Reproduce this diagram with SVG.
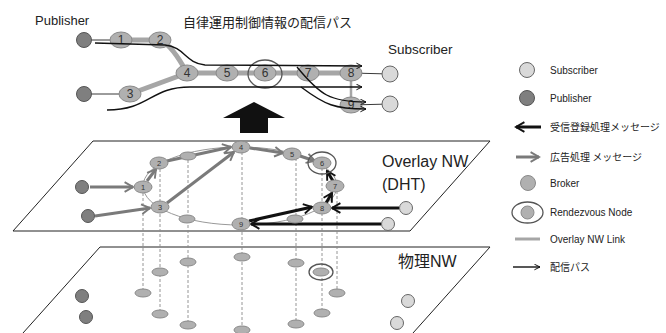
<svg xmlns="http://www.w3.org/2000/svg" width="666" height="333" viewBox="0 0 666 333">
<defs>
<style>
.t{font-family:"Liberation Sans","Noto Sans CJK JP",sans-serif;fill:#222}
.jp{font-family:"Noto Sans CJK JP",sans-serif;fill:#222}
.pub{fill:#7f7f7f;stroke:#555;stroke-width:1}
.sub{fill:#d9d9d9;stroke:#666;stroke-width:1}
.brk{fill:#b0b0b0;stroke:#8a8a8a;stroke-width:1}
.ring{fill:none;stroke:#555;stroke-width:1.3}
.link{fill:none;stroke:#a6a6a6;stroke-width:5}
.thin{fill:none;stroke:#999;stroke-width:1}
.path{fill:none;stroke:#111;stroke-width:1.4}
.garr{fill:none;stroke:#7a7a7a;stroke-width:3}
.barr{fill:none;stroke:#111;stroke-width:3}
.dash{stroke:#8a8a8a;stroke-width:0.9;stroke-dasharray:3 2}
.plane{fill:none;stroke:#222;stroke-width:1}
.nl{font-family:"Liberation Sans",sans-serif;fill:#333;text-anchor:middle}
</style>
<marker id="ah" viewBox="0 0 10 10" refX="9" refY="5" markerWidth="7" markerHeight="7" orient="auto" markerUnits="userSpaceOnUse"><path d="M1,1 L9,5 L1,9" fill="none" stroke="#111" stroke-width="1.4"/></marker>
<marker id="ga" viewBox="0 0 10 10" refX="8" refY="5" markerWidth="4" markerHeight="4" orient="auto"><path d="M1,1 L8,5 L1,9" fill="none" stroke="#7a7a7a" stroke-width="1.6"/></marker>
<marker id="ba" viewBox="0 0 10 10" refX="8" refY="5" markerWidth="4" markerHeight="4" orient="auto"><path d="M1,1 L8,5 L1,9" fill="none" stroke="#111" stroke-width="1.6"/></marker>
</defs>

<!-- titles -->
<text class="t" x="35" y="25" font-size="13">Publisher</text>
<text class="jp" x="183" y="27" font-size="13">自律運用制御情報の配信パス</text>
<text class="t" x="388" y="54" font-size="13.5">Subscriber</text>

<!-- top diagram links -->
<g id="top-links">
<path class="link" d="M121,40 L160,40"/>
<path class="link" d="M160,40 Q172,45 187,73"/>
<path class="link" d="M187,73 L351,73"/>
<path class="link" d="M130,94 L187,73"/>
<path d="M351,73 L351,105" stroke="#a6a6a6" stroke-width="2.5"/>
<path d="M84,40 L121,40 M84,94 L130,94 M351,73 L390,74 M351,105 L390,104" stroke="#222" stroke-width="0.9"/>
</g>
<g id="top-nodes">
<g id="tpub1"><circle class="pub" cx="84" cy="40" r="7.5"/></g>
<g id="tpub2"><circle class="pub" cx="84" cy="94" r="7.5"/></g>
<g id="t1"><ellipse class="brk" cx="121" cy="40" rx="11" ry="8"/><text class="nl" x="121" y="44" font-size="12">1</text></g>
<g id="t2"><ellipse class="brk" cx="160" cy="40" rx="11" ry="8"/><text class="nl" x="160" y="44" font-size="12">2</text></g>
<g id="t3"><ellipse class="brk" cx="130" cy="94" rx="11" ry="8"/><text class="nl" x="130" y="98" font-size="12">3</text></g>
<g id="t4"><ellipse class="brk" cx="187" cy="73" rx="11" ry="8"/><text class="nl" x="187" y="77" font-size="12">4</text></g>
<g id="t5"><ellipse class="brk" cx="227" cy="73" rx="11" ry="8"/><text class="nl" x="227" y="77" font-size="12">5</text></g>
<g id="t6"><ellipse class="ring" cx="265" cy="74" rx="17" ry="14"/><ellipse class="brk" cx="265" cy="73" rx="11" ry="8"/><text class="nl" x="265" y="77" font-size="12">6</text></g>
<g id="t7"><ellipse class="brk" cx="308" cy="73" rx="11" ry="8"/><text class="nl" x="308" y="77" font-size="12">7</text></g>
<g id="t8"><ellipse class="brk" cx="351" cy="73" rx="11" ry="8"/><text class="nl" x="351" y="77" font-size="12">8</text></g>
<g id="t9"><ellipse class="brk" cx="351" cy="105" rx="11" ry="8"/><text class="nl" x="351" y="109" font-size="12">9</text></g>
<g id="tsub1"><circle class="sub" cx="390" cy="74" r="8"/></g>
<g id="tsub2"><circle class="sub" cx="390" cy="104" r="8"/></g>
</g>
<g id="top-paths">
<path class="path" marker-end="url(#ah)" d="M95,43 L165,45 C185,47 185,63 205,65 L362,66"/>
<path class="path" marker-end="url(#ah)" d="M107,110 C150,110 150,87 190,87 L362,87"/>
<path class="path" marker-end="url(#ah)" d="M297,67 C320,95 330,102 366,102"/>
<path class="path" marker-end="url(#ah)" d="M301,87 C325,105 335,109 366,109"/>
</g>

<!-- big arrow -->
<polygon points="223,118 254,102 285,118 268,118 268,133 240,133 240,118" fill="#111"/>

<!-- planes -->
<polygon class="plane" points="93,141 490,141 410,231 13,231"/>
<path class="plane" d="M23,333 L100,247 L490,247 L413,333"/>
<text class="t" x="382" y="167" font-size="16">Overlay NW</text>
<text class="t" x="382" y="190" font-size="16">(DHT)</text>
<text class="t" x="398" y="267" font-size="16">物理NW</text>

<!-- dashed projections -->
<g id="projections">
<line class="dash" x1="143" y1="193" x2="143" y2="293"/>
<line class="dash" x1="160" y1="169" x2="160" y2="314"/>
<line class="dash" x1="188" y1="160" x2="188" y2="325"/>
<line class="dash" x1="242" y1="152" x2="242" y2="330"/>
<line class="dash" x1="296" y1="158" x2="296" y2="324"/>
<line class="dash" x1="322" y1="168" x2="322" y2="313"/>
<line class="dash" x1="337" y1="191" x2="337" y2="293"/>
</g>

<!-- physical nodes -->
<g id="physical">
<ellipse class="brk" cx="143" cy="293" rx="8" ry="4"/>
<ellipse class="brk" cx="160" cy="272" rx="8" ry="4"/>
<ellipse class="brk" cx="160" cy="314" rx="8" ry="4"/>
<ellipse class="brk" cx="188" cy="262" rx="8" ry="4"/>
<ellipse class="brk" cx="188" cy="325" rx="8" ry="4"/>
<ellipse class="brk" cx="242" cy="257" rx="8" ry="4"/>
<ellipse class="brk" cx="242" cy="330" rx="8" ry="4"/>
<ellipse class="brk" cx="296" cy="263" rx="8" ry="4"/>
<ellipse class="brk" cx="296" cy="324" rx="8" ry="4"/>
<ellipse class="ring" cx="321" cy="272" rx="12" ry="8"/>
<ellipse class="brk" cx="321" cy="272" rx="8" ry="4"/>
<ellipse class="brk" cx="322" cy="313" rx="8" ry="4"/>
<ellipse class="brk" cx="337" cy="293" rx="8" ry="4"/>
<circle class="pub" cx="82" cy="296" r="6.5"/>
<circle class="pub" cx="86" cy="317" r="6.5"/>
<circle class="sub" cx="408" cy="301" r="6.5"/>
<circle class="sub" cx="397" cy="323" r="6.5"/>
</g>

<!-- overlay ring -->
<ellipse class="thin" cx="240" cy="186" rx="97" ry="39"/>

<!-- overlay connectors -->
<g id="overlay-connectors">
<line class="garr" marker-end="url(#ga)" x1="90" y1="187" x2="133" y2="187"/>
<line class="garr" marker-end="url(#ga)" x1="95" y1="216" x2="150" y2="208"/>
<line class="garr" marker-end="url(#ga)" x1="147" y1="181" x2="156" y2="169"/>
<line class="garr" marker-end="url(#ga)" x1="167" y1="161" x2="231" y2="147"/>
<line class="garr" marker-end="url(#ga)" x1="167" y1="203" x2="234" y2="152"/>
<line class="garr" marker-end="url(#ga)" x1="250" y1="148" x2="283" y2="153"/>
<line class="garr" marker-end="url(#ga)" x1="300" y1="156" x2="315" y2="161"/>
<line class="barr" marker-end="url(#ba)" x1="399" y1="208" x2="332" y2="208"/>
<line class="barr" marker-end="url(#ba)" x1="381" y1="224" x2="251" y2="224"/>
<line class="barr" marker-end="url(#ba)" x1="249" y1="221" x2="312" y2="207"/>
<line class="barr" marker-end="url(#ba)" x1="326" y1="203" x2="332" y2="193"/>
<line class="barr" marker-end="url(#ba)" x1="333" y1="181" x2="327" y2="171"/>
</g>

<!-- overlay nodes -->
<g id="overlay-nodes">
<g id="opub1"><circle class="pub" cx="82" cy="187" r="6.5"/></g>
<g id="opub2"><circle class="pub" cx="88" cy="216" r="6.5"/></g>
<g id="o1"><ellipse class="brk" cx="143" cy="187" rx="9" ry="6"/><text class="nl" x="143" y="190" font-size="7.5">1</text></g>
<g id="o2"><ellipse class="brk" cx="159" cy="163" rx="9" ry="6"/><text class="nl" x="159" y="166" font-size="7.5">2</text></g>
<g id="o3"><ellipse class="brk" cx="160" cy="207" rx="9" ry="6"/><text class="nl" x="160" y="210" font-size="7.5">3</text></g>
<g id="oa"><ellipse class="brk" cx="188" cy="156" rx="8" ry="4"/></g>
<g id="ob"><ellipse class="brk" cx="187" cy="219" rx="8" ry="4"/></g>
<g id="oc"><ellipse class="brk" cx="295" cy="219" rx="8" ry="4"/></g>
<g id="o4"><ellipse class="brk" cx="241" cy="147" rx="9" ry="6"/><text class="nl" x="241" y="150" font-size="7.5">4</text></g>
<g id="o5"><ellipse class="brk" cx="292" cy="154" rx="9" ry="6"/><text class="nl" x="292" y="157" font-size="7.5">5</text></g>
<g id="o6"><ellipse class="ring" cx="322" cy="163" rx="14" ry="11"/><ellipse class="brk" cx="322" cy="163" rx="9" ry="6"/><text class="nl" x="322" y="166" font-size="7.5">6</text></g>
<g id="o7"><ellipse class="brk" cx="335" cy="186" rx="9" ry="6"/><text class="nl" x="335" y="189" font-size="7.5">7</text></g>
<g id="o8"><ellipse class="brk" cx="322" cy="208" rx="9" ry="6"/><text class="nl" x="322" y="211" font-size="7.5">8</text></g>
<g id="o9"><ellipse class="brk" cx="241" cy="224" rx="9" ry="6"/><text class="nl" x="241" y="227" font-size="7.5">9</text></g>
<g id="osub1"><circle class="sub" cx="406" cy="208" r="6.5"/></g>
<g id="osub2"><circle class="sub" cx="388" cy="224" r="6.5"/></g>
</g>

<!-- legend -->
<g id="legend">
<circle class="sub" cx="527" cy="70" r="7.5"/>
<text class="t" x="550" y="74" font-size="10">Subscriber</text>
<circle class="pub" cx="527" cy="98" r="7.5"/>
<text class="t" x="550" y="102" font-size="10">Publisher</text>
<line class="barr" marker-end="url(#ba)" x1="541" y1="127" x2="516" y2="127"/>
<text class="jp" x="550" y="131" font-size="10">受信登録処理メッセージ</text>
<line class="garr" marker-end="url(#ga)" x1="516" y1="157" x2="539" y2="157"/>
<text class="jp" x="550" y="161" font-size="10">広告処理 メッセージ</text>
<circle class="brk" cx="528" cy="183" r="7.5"/>
<text class="t" x="550" y="187" font-size="10">Broker</text>
<ellipse class="ring" cx="527.5" cy="212.5" rx="15.5" ry="10.5"/>
<circle class="brk" cx="527.5" cy="212.5" r="6.5"/>
<text class="t" x="550" y="216" font-size="10">Rendezvous Node</text>
<line x1="515" y1="239" x2="540" y2="239" stroke="#a6a6a6" stroke-width="3"/>
<text class="t" x="550" y="243" font-size="10">Overlay NW Link</text>
<line class="path" marker-end="url(#ah)" x1="513" y1="267" x2="540" y2="267"/>
<text class="jp" x="550" y="271" font-size="10">配信パス</text>
</g>
</svg>
